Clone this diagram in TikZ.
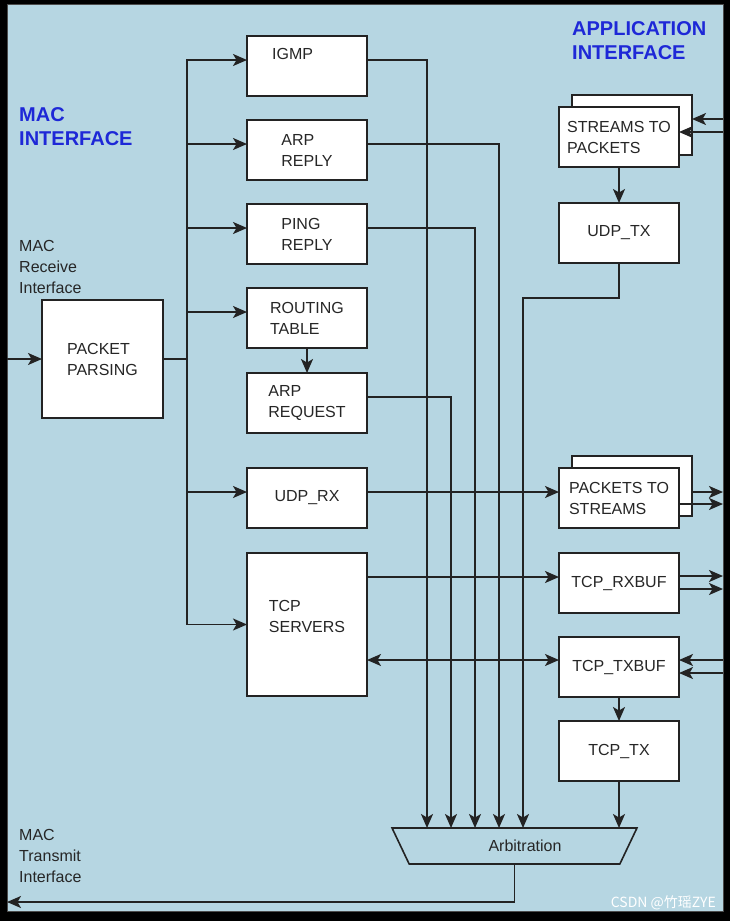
\documentclass[tikz,border=0pt]{standalone}
\usepackage{fontspec}
\setmainfont{Liberation Sans}
\newfontfamily\cjkfont{Noto Sans CJK SC}
\usepackage{xcolor}
\usepackage{tikz}
\usetikzlibrary{positioning, arrows.meta, calc, shapes.geometric}
\definecolor{panelblue}{RGB}{182,214,226}
\definecolor{titleblue}{RGB}{30,40,215}
\definecolor{inkgray}{RGB}{35,35,35}
\tikzset{
  blockbox/.style={
    rectangle,
    draw=inkgray,
    fill=white,
    line width=1.6pt,
    minimum width=120pt,
    minimum height=60pt,
    align=left,
    font=\fontsize{16}{21}\selectfont,
    text=black!85,
    inner sep=0pt,
    outer sep=0pt
  },
  linkarrow/.style={
    -{Stealth[length=14pt,width=12pt,inset=3.5pt]},
    line width=1.8pt,
    draw=inkgray
  },
  biarrow/.style={
    {Stealth[length=14pt,width=12pt,inset=3.5pt]}-{Stealth[length=14pt,width=12pt,inset=3.5pt]},
    line width=1.8pt,
    draw=inkgray
  },
  linkline/.style={
    line width=1.8pt,
    draw=inkgray
  },
  sidelabel/.style={
    align=left,
    font=\fontsize{16}{21}\selectfont,
    text=black!85,
    inner sep=0pt
  },
  titlelabel/.style={
    align=left,
    font=\bfseries\fontsize{20}{24}\selectfont,
    text=titleblue,
    inner sep=0pt
  }
}

\begin{document}
\begin{tikzpicture}[x=1pt, y=-1pt, node distance=24pt]
  \fill[black] (0,0) rectangle (730,921);
  \filldraw[fill=panelblue, draw=gray!60!black, line width=1pt] (7,4) rectangle (723,911);
  \useasboundingbox (0,0) rectangle (730,921);

  % titles and side texts
  \node[titlelabel, anchor=west] (macif) at (19,127) {MAC\\INTERFACE};
  \node[titlelabel, anchor=west] (appif) at (572,41) {APPLICATION\\INTERFACE};
  \node[sidelabel, anchor=west] (macrx) at (19,267) {MAC\\Receive\\Interface};
  \node[sidelabel, anchor=west] (mactx) at (19,856) {MAC\\Transmit\\Interface};

  % receive side
  \node[blockbox, minimum width=121pt, minimum height=118pt, anchor=north west] (parse) at (42,300)
    {PACKET\\PARSING};
  \node[blockbox, anchor=north west,
        label={[sidelabel, anchor=north west, xshift=25pt, yshift=-12pt]north west:IGMP}] (igmp) at (247,36) {};
  \node[blockbox, below=of igmp] (arprep) {ARP\\REPLY};
  \node[blockbox, below=of arprep] (ping) {PING\\REPLY};
  \node[blockbox, below=of ping] (route) {ROUTING\\TABLE};
  \node[blockbox, below=25pt of route] (arpreq) {ARP\\REQUEST};
  \node[blockbox, below=35pt of arpreq] (udprx) {UDP\_RX};
  \node[blockbox, below=25pt of udprx, minimum height=143pt] (tcpsrv) {TCP\\SERVERS\\[-4pt]\mbox{}};

  % application side
  \node[blockbox, anchor=north west] (s2pback) at (572,95) {};
  \node[blockbox, anchor=north west] (s2p) at (559,107) {STREAMS TO\\PACKETS};
  \node[blockbox, below=36pt of s2p] (udptx) {UDP\_TX};
  \node[blockbox, anchor=north west] (p2sback) at (572,456) {};
  \node[blockbox, anchor=north west] (p2s) at (559,468) {PACKETS TO\\STREAMS};
  \node[blockbox, below=25pt of p2s] (rxbuf) {TCP\_RXBUF};
  \node[blockbox, below=of rxbuf] (txbuf) {TCP\_TXBUF};
  \node[blockbox, below=of txbuf] (tcptx) {TCP\_TX};

  \node[trapezium, shape border rotate=180, trapezium left angle=57, trapezium right angle=57,
        trapezium stretches=true, minimum width=245pt, minimum height=36pt,
        draw=inkgray, line width=1.6pt, sidelabel] (arb) at (514.5,846) {\hspace*{21pt}Arbitration};

  % end points
  \coordinate (macin) at (7,359);
  \coordinate (bus) at (187,359);
  \coordinate (macout) at (7,902);
  \foreach \n/\dx in {a1/-87.5, a2/-63.5, a3/-39.5, a4/-15.5, a5/8.5}
    \coordinate (\n) at ([xshift=\dx pt, yshift=18pt]arb.center);
  \coordinate (r1) at (723,119);
  \coordinate (r2) at (723,132);
  \coordinate (r3) at (723,492);
  \coordinate (r4) at (723,504);
  \coordinate (r5) at (723,576);
  \coordinate (r6) at (723,589);
  \coordinate (r7) at (723,660);
  \coordinate (r8) at (723,673);

  % receive path
  \draw[linkarrow] (macin) -- (parse.west);
  \draw[linkline] (parse.east) -- (bus);
  \foreach \n/\s in {igmp/6, arprep/6, ping/6, route/6, udprx/6, tcpsrv/0}
    \draw[linkarrow] (bus) |- ([yshift=\s pt]\n.west);
  \draw[linkarrow] (route.south) -- (arpreq.north);

  % into arbitration
  \draw[linkarrow] ([yshift=6pt]igmp.east) -| (a1);
  \draw[linkarrow] ([yshift=6pt]arpreq.east) -| (a2);
  \draw[linkarrow] ([yshift=6pt]ping.east) -| (a3);
  \draw[linkarrow] ([yshift=6pt]arprep.east) -| (a4);
  \draw[linkarrow] (udptx.south) -- ++(0,35) -| (a5);
  \draw[linkarrow] (tcptx.south) -- (tcptx.south |- a5);
  \draw[linkarrow] ([yshift=-18pt]arb.center) |- (macout);

  % application path
  \draw[linkarrow] (s2p.south) -- (udptx.north);
  \draw[linkarrow] (txbuf.south) -- (tcptx.north);
  \draw[linkarrow] ([yshift=6pt]udprx.east) -- ([yshift=6pt]p2s.west);
  \draw[linkarrow] ($(rxbuf.west -| tcpsrv.east)+(0,-6)$) -- ($(rxbuf.west)+(0,-6)$);
  \draw[biarrow] ($(txbuf.west -| tcpsrv.east)+(0,-7)$) -- ($(txbuf.west)+(0,-7)$);

  \draw[linkarrow] (r1) -- (r1 -| s2pback.east);
  \draw[linkarrow] (r2) -- (r2 -| s2p.east);
  \draw[linkarrow] (p2sback.east |- r3) -- (r3);
  \draw[linkarrow] (p2s.east |- r4) -- (r4);
  \draw[linkarrow] (rxbuf.east |- r5) -- (r5);
  \draw[linkarrow] (rxbuf.east |- r6) -- (r6);
  \draw[linkarrow] (r7) -- (r7 -| txbuf.east);
  \draw[linkarrow] (r8) -- (r8 -| txbuf.east);

  \node[font=\cjkfont\fontsize{14}{14}\selectfont, text=white, anchor=east, inner sep=0pt] (mark)
    at (716,903) {CSDN @竹瑶ZYE};
\end{tikzpicture}
\end{document}
